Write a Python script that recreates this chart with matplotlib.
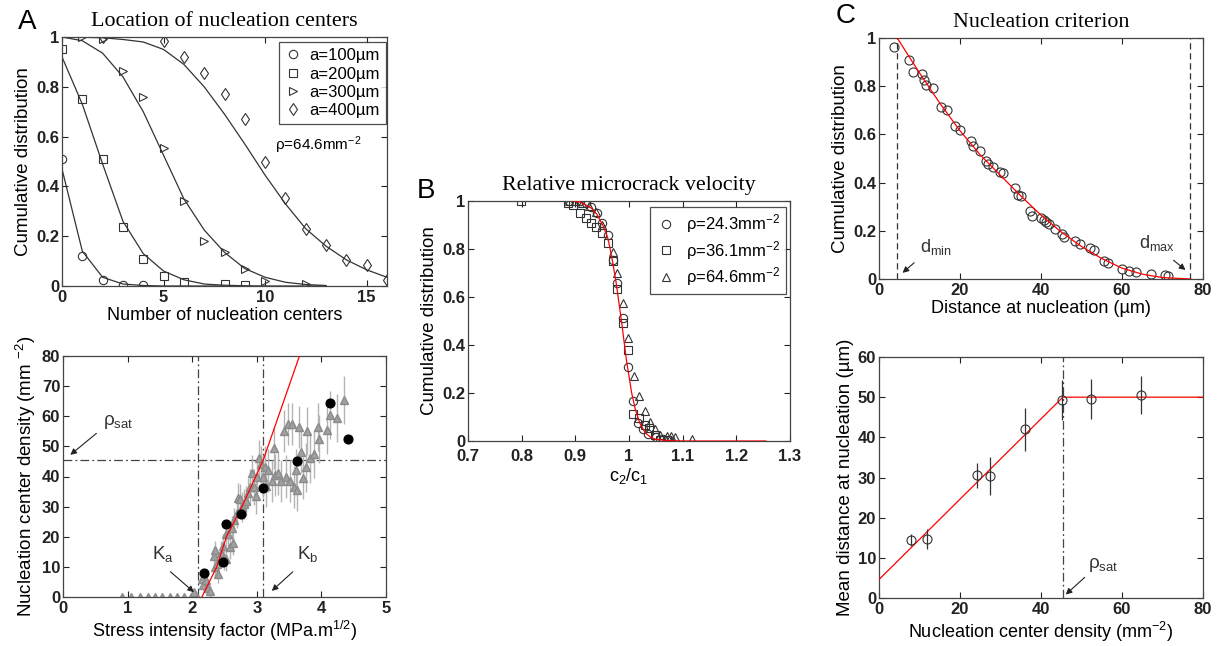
import numpy as np
import matplotlib
matplotlib.use('Agg')
import matplotlib.pyplot as plt
from matplotlib.ticker import FuncFormatter

plt.rcParams['font.family'] = ['Liberation Sans', 'DejaVu Sans']
plt.rcParams['mathtext.fontset'] = 'custom'
plt.rcParams['mathtext.rm'] = 'Liberation Sans'
plt.rcParams['mathtext.it'] = 'Liberation Sans:italic'
plt.rcParams['mathtext.bf'] = 'Liberation Sans:bold'

# ---------------- Panel A (top): location of nucleation centers
n_curve = list(range(17))
fit_a100 = [0.47, 0.14, 0.035, 0.008, 0.002, 0.0, 0.0, 0.0, 0.0]
fit_a200 = [0.92, 0.73, 0.49, 0.26, 0.13, 0.06, 0.025, 0.008, 0.003, 0.001, 0.0, 0.0, 0.0, 0.0]
fit_a300 = [1.0, 0.985, 0.935, 0.84, 0.70, 0.525, 0.35, 0.225, 0.135, 0.07, 0.035, 0.015, 0.006, 0.002]
fit_a400 = [1.0, 0.999, 0.997, 0.99, 0.98, 0.95, 0.89, 0.80, 0.69, 0.57, 0.445, 0.33, 0.23, 0.16, 0.105, 0.065, 0.035]

x_a100 = [0, 1, 2, 3, 4]
y_a100 = [0.51, 0.12, 0.025, 0.005, 0.005]
x_a200 = [0, 1, 2, 3, 4, 5, 6, 8, 9]
y_a200 = [0.95, 0.75, 0.51, 0.235, 0.11, 0.04, 0.015, 0.01, 0.005]
x_a300 = [1, 2, 3, 4, 5, 6, 7, 8, 9, 10, 12]
y_a300 = [1.0, 0.99, 0.865, 0.76, 0.555, 0.34, 0.18, 0.135, 0.07, 0.02, 0.01]
x_a400 = [2, 5, 6, 7, 8, 9, 10, 11, 12, 13, 14, 15, 16]
y_a400 = [1.0, 0.985, 0.92, 0.855, 0.77, 0.67, 0.50, 0.355, 0.23, 0.165, 0.105, 0.085, 0.025]

# ---------------- Panel A (bottom): density vs stress intensity factor
tri_x = [0.91, 1.05, 1.19, 1.31, 1.42, 1.54, 1.66, 1.77, 1.87, 1.98, 2.07,
         2.03, 2.15, 2.17, 2.22, 2.25, 2.28, 2.33, 2.35, 2.35, 2.38, 2.40, 2.44,
         2.47, 2.49, 2.52, 2.53, 2.56, 2.58, 2.61, 2.63, 2.65, 2.69, 2.71, 2.74,
         2.77, 2.80, 2.84, 2.87, 2.90, 2.92, 2.95, 2.98, 3.00, 3.03, 3.07, 3.10,
         3.12, 3.15, 3.18, 3.23, 3.27, 3.28, 3.33, 3.37, 3.42, 3.45, 3.48, 3.51,
         3.54, 3.57, 3.60, 3.63, 3.66, 3.69, 3.72, 3.76, 3.78, 3.83, 3.88, 3.95,
         3.97, 4.08, 4.13, 4.24, 4.35]
tri_y = [0, 0, 0, 0, 0, 0, 0, 0, 0, 0, 0,
         1.5, 6, 4, 5.5, 3, 2, 13.5, 15.5, 10, 11, 7.5, 14.5,
         17, 13, 12.5, 21, 21, 16.5, 23, 18, 25.5, 28, 33, 32.5,
         30, 31, 32, 34.5, 36.5, 41, 36.5, 33.5, 40, 46, 44, 40,
         43, 37, 42, 38.5, 49.5, 40.5, 41, 38.5, 55, 40, 57.5, 38.5,
         57.5, 36.5, 42, 35.5, 56.5, 48, 39.5, 43, 55, 46, 47.5, 56.5,
         52.5, 55.5, 60.5, 59.5, 65.5]
tri_err = [0, 0, 0, 0, 0, 0, 0, 0, 0, 0, 0,
           1, 2, 2, 3, 2, 2, 3, 3, 3, 3, 3, 4,
           4, 4, 4, 4, 4, 4, 4, 4, 4, 5, 5, 5,
           5, 5, 5, 5, 6, 6, 6, 6, 6, 6, 6, 7,
           7, 7, 7, 7, 7, 7, 7, 7, 7, 7, 7, 7,
           7, 7, 7, 7, 7, 7, 7, 8, 8, 8, 8, 8,
           8, 8, 8, 8, 8]
dot_x = [2.18, 2.48, 2.52, 2.75, 3.09, 3.62, 4.14, 4.41]
dot_y = [8.1, 11.5, 24.2, 27.6, 36.3, 45.1, 64.5, 52.4]
fit_k_x = [2.15, 2.38, 2.53, 2.77, 3.10, 3.66]
fit_k_y = [0, 10, 20, 30, 45.5, 80]
k_a, k_b, rho_sat = 2.09, 3.09, 45.5

# ---------------- Panel B: relative microcrack velocity
b243_x = [0.888, 0.909, 0.92, 0.929, 0.94, 0.949, 0.96, 0.97, 0.978, 0.988, 0.999,
          1.008, 1.017, 1.027, 1.036, 1.05, 1.064, 1.075]
b243_y = [1.0, 1.0, 0.99, 0.976, 0.95, 0.907, 0.858, 0.754, 0.66, 0.511, 0.31,
          0.167, 0.074, 0.049, 0.029, 0.015, 0.007, 0.004]
b361_x = [0.798, 0.887, 0.896, 0.909, 0.92, 0.929, 0.938, 0.949, 0.96, 0.97, 0.978,
          0.988, 0.999, 1.008, 1.019, 1.029, 1.038, 1.048, 1.058, 1.07]
b361_y = [1.0, 0.993, 0.983, 0.949, 0.928, 0.907, 0.893, 0.865, 0.824, 0.75, 0.633,
          0.493, 0.379, 0.113, 0.095, 0.067, 0.053, 0.025, 0.006, 0.003]
b646_x = [0.888, 0.90, 0.912, 0.925, 0.938, 0.949, 0.97, 0.978, 0.988, 0.999, 1.009,
          1.019, 1.029, 1.039, 1.048, 1.058, 1.07, 1.078, 1.086, 1.118]
b646_y = [1.0, 1.0, 0.99, 0.98, 0.955, 0.9, 0.789, 0.701, 0.574, 0.428, 0.272,
          0.187, 0.125, 0.078, 0.048, 0.025, 0.022, 0.021, 0.018, 0.01]
fit_b_x = [0.896, 0.91, 0.93, 0.94, 0.951, 0.96, 0.965, 0.97, 0.976, 0.986, 0.995,
           1.005, 1.012, 1.02, 1.03, 1.04, 1.05, 1.07, 1.10, 1.255]
fit_b_y = [1.0, 0.995, 0.97, 0.945, 0.90, 0.85, 0.80, 0.74, 0.66, 0.50, 0.34,
           0.20, 0.13, 0.075, 0.035, 0.016, 0.007, 0.002, 0.0, 0.0]

# ---------------- Panel C (top): nucleation criterion
c_dist = [3.7, 7.4, 8.4, 10.6, 11.0, 11.6, 13.3, 15.3, 16.7, 18.8, 20.0, 22.6, 23.3,
          24.9, 26.3, 26.9, 28.2, 29.8, 30.5, 33.6, 34.3, 35.1, 37.2, 37.8, 39.9,
          40.7, 41.2, 42.0, 43.4, 45.1, 45.8, 48.4, 49.6, 52.2, 53.0, 55.6, 56.6,
          59.9, 61.8, 63.5, 67.2, 70.5, 71.4]
c_cum = [0.963, 0.91, 0.859, 0.852, 0.827, 0.805, 0.793, 0.712, 0.701, 0.636, 0.618,
         0.571, 0.55, 0.531, 0.491, 0.479, 0.466, 0.445, 0.438, 0.376, 0.349, 0.346,
         0.284, 0.263, 0.253, 0.245, 0.235, 0.227, 0.206, 0.187, 0.173, 0.159, 0.145,
         0.129, 0.122, 0.073, 0.066, 0.043, 0.035, 0.028, 0.021, 0.017, 0.011]
fit_c_x = [4.5, 10, 15, 20, 25, 30, 35, 40, 45, 50, 55, 60, 65, 70, 77]
fit_c_y = [1.0, 0.855, 0.73, 0.615, 0.515, 0.43, 0.345, 0.265, 0.195, 0.135,
           0.085, 0.045, 0.02, 0.006, 0.0]
d_min, d_max = 4.5, 76.8

# ---------------- Panel C (bottom): mean distance vs density
dens = [7.9, 11.8, 24.2, 27.5, 36.0, 45.1, 52.4, 64.6]
mean_d = [14.4, 14.6, 30.5, 30.4, 42.0, 49.2, 49.5, 50.5]
mean_err = [1.5, 2.5, 3.0, 4.8, 5.4, 5.0, 5.0, 4.8]
fit_d_x = [0, 45.4, 80]
fit_d_y = [4.6, 50, 50]


def style(ax, xlim, ylim, xt, yt, xpad=3):
    ax.set_xlim(*xlim)
    ax.set_ylim(*ylim)
    ax.set_xticks(xt)
    ax.set_yticks(yt)
    fmt = FuncFormatter(lambda v, p: '%g' % round(v, 6))
    ax.xaxis.set_major_formatter(fmt)
    ax.yaxis.set_major_formatter(fmt)
    ax.tick_params(direction='in', top=True, right=True, length=4, width=0.8,
                   labelsize=12, colors='#222222')
    ax.tick_params(axis='x', pad=xpad)
    ax.tick_params(axis='y', pad=2)
    for t in ax.get_xticklabels() + ax.get_yticklabels():
        t.set_fontweight('bold')
    for s in ax.spines.values():
        s.set_color('#444444')
        s.set_linewidth(0.9)


W, H = 1217, 646
fig = plt.figure(figsize=(W / 100, H / 100), dpi=100)


def add_ax(l, r, t, b):
    return fig.add_axes([l / W, 1 - b / H, (r - l) / W, (b - t) / H])


title_font = dict(family='Liberation Serif', fontsize=15.8)
xlab = 13
ylab = 13.5
letter = dict(fontsize=20, ha='center', va='center')

# Panel A top
ax1 = add_ax(62, 387, 37, 286)
for xs, ys in [(n_curve[:len(fit_a100)], fit_a100), (n_curve[:len(fit_a200)], fit_a200),
               (n_curve[:len(fit_a300)], fit_a300), (n_curve[:len(fit_a400)], fit_a400)]:
    ax1.plot(xs, ys, color='#333333', lw=0.9)
mk = dict(ls='none', mfc='none', mec='#333333', mew=0.8, ms=6)
ax1.plot(x_a100, y_a100, marker='o', label='a=100µm', **mk)
ax1.plot(x_a200, y_a200, marker='s', label='a=200µm', **mk)
ax1.plot(x_a300, y_a300, marker='>', label='a=300µm', **mk)
ax1.plot(x_a400, y_a400, marker='d', label='a=400µm', **mk)
style(ax1, (0, 16), (0, 1), [0, 5, 10, 15], np.arange(0, 1.01, 0.2))
leg = ax1.legend(loc='upper right', bbox_to_anchor=(0.997, 0.978), borderaxespad=0,
                 fontsize=12, frameon=True, fancybox=False, handletextpad=0.5,
                 labelspacing=0.2, borderpad=0.35, handlelength=1.0)
leg.get_frame().set_edgecolor('#222222')
leg.get_frame().set_linewidth(0.9)
ax1.text(10.5, 0.545, r'ρ=64.6mm$^{-2}$', fontsize=11)
ax1.set_title('Location of nucleation centers', pad=8, **title_font)
ax1.set_xlabel('Number of nucleation centers', fontsize=xlab, labelpad=1)
ax1.set_ylabel('Cumulative distribution', fontsize=ylab, labelpad=3)
fig.text(27 / W, 1 - 22 / H, 'A', **letter)

# Panel A bottom
ax2 = add_ax(63, 386, 356, 597)
ax2.errorbar(tri_x, tri_y, yerr=tri_err, fmt='^', color='#a0a0a0', ecolor='#b4b4b4',
             elinewidth=1.0, capsize=0, ms=5.5, mfc='#a0a0a0', mec='#8a8a8a', zorder=2)
ax2.plot(fit_k_x, fit_k_y, color='red', lw=0.9, zorder=3)
ax2.plot(dot_x, dot_y, 'o', color='black', ms=6.3, zorder=4)
dd = dict(color='#444444', lw=0.9, ls=(0, (7, 2.5, 1.5, 2.5)), zorder=1)
ax2.axvline(k_a, **dd)
ax2.axvline(k_b, **dd)
ax2.axhline(rho_sat, **dd)
style(ax2, (0, 5), (0, 80), range(6), range(0, 81, 10))
arw = dict(arrowstyle='-|>', color='#222222', lw=0.8, mutation_scale=9)
ax2.annotate('', xy=(0.08, 46.6), xytext=(0.55, 54.9), arrowprops=arw)
ax2.text(0.62, 57, r'ρ$_{\mathrm{sat}}$', fontsize=13.5, color='#333333')
ax2.annotate('', xy=(2.06, 1.0), xytext=(1.63, 9), arrowprops=arw)
ax2.text(1.38, 12.5, r'K$_{\mathrm{a}}$', fontsize=13.5, color='#333333')
ax2.annotate('', xy=(3.2, 1.4), xytext=(3.59, 9), arrowprops=arw)
ax2.text(3.62, 12.5, r'K$_{\mathrm{b}}$', fontsize=13.5, color='#333333')
ax2.set_xlabel(r'Stress intensity factor (MPa.m$^{1/2}$)', fontsize=xlab, labelpad=2)
ax2.set_ylabel(r'Nucleation center density (mm $^{-2}$)', fontsize=ylab, labelpad=3)

# Panel B
ax3 = add_ax(468, 790, 201, 441)
ax3.plot(fit_b_x, fit_b_y, color='red', lw=0.9, zorder=3)
ax3.plot(b243_x, b243_y, marker='o', label=r'ρ=24.3mm$^{-2}$', **mk)
ax3.plot(b361_x, b361_y, marker='s', label=r'ρ=36.1mm$^{-2}$', **mk)
ax3.plot(b646_x, b646_y, marker='^', label=r'ρ=64.6mm$^{-2}$', **mk)
style(ax3, (0.7, 1.3), (0, 1), np.arange(0.7, 1.31, 0.1), np.arange(0, 1.01, 0.2), xpad=6)
leg = ax3.legend(loc='upper right', bbox_to_anchor=(0.988, 0.976), borderaxespad=0,
                 fontsize=12, frameon=True, fancybox=False, handletextpad=0.6,
                 labelspacing=0.2, borderpad=0.35, handlelength=1.2)
leg.get_frame().set_edgecolor('#222222')
leg.get_frame().set_linewidth(0.9)
ax3.set_title('Relative microcrack velocity', pad=8, **title_font)
ax3.set_xlabel(r'c$_2$/c$_1$', fontsize=xlab, labelpad=1)
ax3.set_ylabel('Cumulative distribution', fontsize=ylab, labelpad=3)
fig.text(426 / W, 1 - 191 / H, 'B', **letter)

# Panel C top
ax4 = add_ax(879, 1203, 38, 279)
ax4.plot(fit_c_x, fit_c_y, color='red', lw=0.9, zorder=3)
ax4.plot(c_dist, c_cum, marker='o', ls='none', mfc='none', mec='#333333', mew=0.8, ms=6.5)
ax4.plot([d_min, d_min], [0, 1], color='#333333', lw=0.9, ls=(0, (5, 3)))
ax4.plot([d_max, d_max], [0, 1], color='#333333', lw=0.9, ls=(0, (5, 3)))
style(ax4, (0, 80), (0, 1), range(0, 81, 20), np.arange(0, 1.01, 0.2))
ax4.annotate('', xy=(5.3, 0.018), xytext=(9.2, 0.075), arrowprops=arw)
ax4.text(10, 0.11, r'd$_{\mathrm{min}}$', fontsize=13, color='#333333')
ax4.annotate('', xy=(76.2, 0.03), xytext=(72.2, 0.085), arrowprops=arw)
ax4.text(64.3, 0.13, r'd$_{\mathrm{max}}$', fontsize=13, color='#333333')
ax4.set_title('Nucleation criterion', pad=8, **title_font)
ax4.set_xlabel('Distance at nucleation (µm)', fontsize=xlab, labelpad=1)
ax4.set_ylabel('Cumulative distribution', fontsize=ylab, labelpad=3)
fig.text(846 / W, 1 - 16 / H, 'C', **letter)

# Panel C bottom
ax5 = add_ax(879, 1203, 357, 598)
ax5.plot(fit_d_x, fit_d_y, color='red', lw=0.9, zorder=3)
ax5.errorbar(dens, mean_d, yerr=mean_err, fmt='o', mfc='none', mec='#333333',
             ecolor='#333333', elinewidth=0.9, capsize=0, ms=6.5, mew=0.8, zorder=4)
ax5.axvline(45.4, **dd)
style(ax5, (0, 80), (0, 60), range(0, 81, 20), range(0, 61, 10))
ax5.annotate('', xy=(45.6, 0.4), xytext=(51.3, 5.6), arrowprops=arw)
ax5.text(51.5, 7.5, r'ρ$_{\mathrm{sat}}$', fontsize=13.5, color='#333333')
ax5.set_xlabel(r'Nucleation center density (mm$^{-2}$)', fontsize=xlab, labelpad=2)
ax5.set_ylabel('Mean distance at nucleation (µm)', fontsize=ylab, labelpad=3)

fig.savefig('out.png', dpi=100)
